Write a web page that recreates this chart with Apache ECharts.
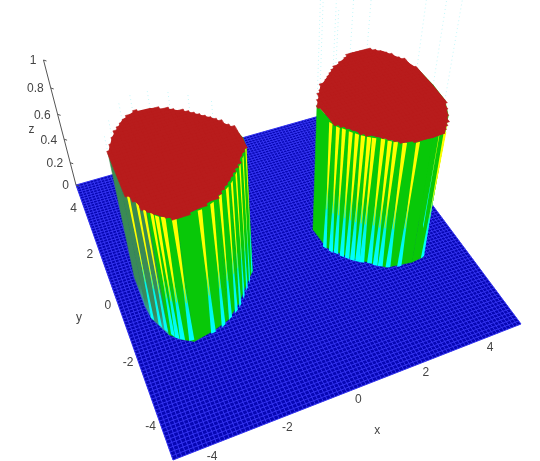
<!DOCTYPE html>
<html>
<head>
<meta charset="utf-8">
<title>surface</title>
<style>
html,body{margin:0;padding:0;background:#fff}
#main{width:540px;height:461px}
</style>
<script src="https://cdn.jsdelivr.net/npm/echarts@6/dist/echarts.min.js"></script>
</head>
<body>
<div id="main"></div>
<script>
// tick labels
var xTicks = [-4, -2, 0, 2, 4];
var yTicks = [4, 2, 0, -2, -4];
var zTicks = [0, 0.2, 0.4, 0.6, 0.8, 1];

// rim of the two plateaus in data units (x, y at z = 1)
var leftRim = [[-2.89,1.93],[-2.42,1.69],[-1.99,1.38],[-1.52,0.93],[-1.17,0.41],[-1.08,-0.07],[-1.13,-0.41],[-1.33,-0.63],[-1.90,-1.32],[-2.37,-1.72],[-2.85,-1.89],[-3.44,-2.01],[-3.71,-1.83],[-4.00,-1.54],[-4.28,-0.84],[-4.32,-0.40],[-4.32,0.71],[-4.08,1.23],[-3.68,1.75],[-3.34,1.95]];
var rightRim = [[3.45,2.00],[3.82,1.74],[4.16,1.20],[4.32,0.70],[4.36,-0.11],[4.33,-0.77],[4.10,-1.32],[3.67,-1.88],[3.30,-1.92],[2.88,-1.86],[2.52,-1.79],[2.14,-1.44],[1.70,-1.05],[1.23,-0.44],[1.15,0.36],[1.53,0.99],[2.20,1.59],[2.93,2.02]];

// where the yellow/cyan stripes sit on the rim
var leftStripes = [[-4.26,-0.88],[-4.13,-1.18],[-4.03,-1.39],[-3.91,-1.61],[-3.83,-1.74],[-3.71,-1.83],[-3.49,-1.95],[-2.87,-1.95],[-2.54,-1.85],[-2.28,-1.69],[-2.05,-1.54],[-1.88,-1.40],[-1.68,-1.16],[-1.50,-0.94],[-1.33,-0.71],[-1.15,-0.44]];
var rightStripes = [[1.18,-0.42],[1.28,-0.63],[1.39,-0.75],[1.50,-0.92],[1.61,-1.05],[1.72,-1.17],[1.84,-1.27],[1.94,-1.35],[2.13,-1.47],[2.25,-1.60],[2.37,-1.69],[2.56,-1.81],[2.88,-1.91],[3.67,-1.88],[3.92,-1.57],[4.29,-0.84]];

// rim segments of the left plateau that are in the dark shade
var leftShade = [13, 14, 15, 16];

// faint wire ends above the plateaus
var leftRays = [[-4.32,0.71],[-4.08,1.23],[-3.68,1.75],[-3.34,1.95],[-2.89,1.93],[-2.42,1.69],[-1.99,1.38],[-1.52,0.93]];
var rightRays = [[1.15,0.36],[1.23,-0.44],[1.53,0.99],[2.20,1.59],[2.93,2.02],[3.45,2.00],[4.36,-0.11],[4.32,0.70],[4.33,-0.77]];

var RED = '#b81c1c';

// camera: corners of the floor on the page and the point vertical lines run to
var cA = [76,185], cB = [173,460], cC = [521,324], cD = [358,105], nadir = [288,1000];
var zTopY = 60;
var dx1 = cC[0]-cD[0], dx2 = cA[0]-cD[0], sx = cB[0]-cC[0]+cD[0]-cA[0];
var dy1 = cC[1]-cD[1], dy2 = cA[1]-cD[1], sy = cB[1]-cC[1]+cD[1]-cA[1];
var det = dx1*dy2-dx2*dy1;
var mg = (sx*dy2-dx2*sy)/det, mh = (dx1*sy-sx*dy1)/det;
var ma = cC[0]-cB[0]+mg*cC[0], mb = cA[0]-cB[0]+mh*cA[0], mc = cB[0];
var md = cC[1]-cB[1]+mg*cC[1], me = cA[1]-cB[1]+mh*cA[1], mf = cB[1];
var mk = (mh+1)*(zTopY-cA[1])/(nadir[1]-zTopY);

function project(x, y, z){
  var u = (x+5)/10, v = (y+5)/10;
  var w = mg*u + mh*v + 1 + mk*z;
  return [(ma*u + mb*v + mc + mk*z*nadir[0])/w, (md*u + me*v + mf + mk*z*nadir[1])/w];
}

function poly(api, pts, style){
  return {
    type: 'polygon',
    shape: {points: pts.map(function(p){ return api.coord(project(p[0],p[1],p[2])); })},
    style: style
  };
}

function inside(rim, x, y){
  var c = false;
  for (var i = 0, j = rim.length-1; i < rim.length; j = i++){
    if ((rim[i][1] > y) != (rim[j][1] > y) &&
        x < (rim[j][0]-rim[i][0])*(y-rim[i][1])/(rim[j][1]-rim[i][1])+rim[i][0]) c = !c;
  }
  return c;
}

// mesh of the surface
var cellsPerSide = 90, cellSize = 10/cellsPerSide;
var meshLines = [];
for (var i = 0; i <= cellsPerSide; i++){
  meshLines.push([i*cellSize-5, 0]);
  meshLines.push([i*cellSize-5, 1]);
}

function topCells(rim){
  var cells = [];
  for (var i = 0; i < cellsPerSide; i++){
    for (var j = 0; j < cellsPerSide; j++){
      var x = i*cellSize-5, y = j*cellSize-5;
      if (inside(rim, x+cellSize/2, y+cellSize/2)) cells.push([x, y]);
    }
  }
  return cells;
}

// wall pieces on the near side only, the far ones would poke out past the jagged top
function wallSegs(rim, shade){
  var segs = [];
  for (var i = 0; i < rim.length; i++){
    var p = rim[i], q = rim[(i+1)%rim.length];
    if ((p[1]+q[1])/2 > 0.4) continue;
    segs.push([p[0], p[1], q[0], q[1], shade.indexOf(i) >= 0 ? 1 : 0]);
  }
  segs.sort(function(a, b){ return (b[1]+b[3]) - (a[1]+a[3]); });
  return segs;
}

function stripeData(list){
  return list.map(function(p, i){
    var a = list[Math.max(i-1,0)], b = list[Math.min(i+1,list.length-1)];
    var tx = b[0]-a[0], ty = b[1]-a[1], len = Math.sqrt(tx*tx+ty*ty);
    return [p[0], p[1], tx/len, ty/len];
  });
}

function renderFloor(params, api){
  return poly(api, [[-5,-5,0],[5,-5,0],[5,5,0],[-5,5,0]], {fill: '#0606b4'});
}
function renderMesh(params, api){
  var t = api.value(0), dir = api.value(1);
  var a = dir ? project(t,-5,0) : project(-5,t,0);
  var b = dir ? project(t,5,0) : project(5,t,0);
  a = api.coord(a); b = api.coord(b);
  return {type:'line', shape:{x1:a[0],y1:a[1],x2:b[0],y2:b[1]}, style:{stroke:'#3434f0', lineWidth:1}};
}
function renderWall(params, api){
  var x0 = api.value(0), y0 = api.value(1), x1 = api.value(2), y1 = api.value(3);
  var shaded = api.value(4);
  var fill = shaded ?
    new echarts.graphic.LinearGradient(0,0,0,1,[{offset:0,color:'#3a8a4e'},{offset:0.85,color:'#3a8a5c'},{offset:1,color:'#30b8b8'}]) :
    '#08c808';
  return poly(api, [[x0,y0,1],[x1,y1,1],[x1,y1,0],[x0,y0,0]], {fill: fill, stroke: fill, lineWidth: 0.5});
}
function renderStripe(params, api){
  var x = api.value(0), y = api.value(1), tx = api.value(2), ty = api.value(3);
  var w = 0.055, wb = 0.07, tip = 0.012;
  return {
    type: 'group',
    children: [
      poly(api, [[x-tx*wb,y-ty*wb,0],[x+tx*wb,y+ty*wb,0],[x+tx*tip,y+ty*tip,0.6],[x-tx*tip,y-ty*tip,0.6]], {
        fill: new echarts.graphic.LinearGradient(0,0,0,1,[{offset:0,color:'#00d8a0'},{offset:0.3,color:'#00f0e0'},{offset:1,color:'#00ffff'}])
      }),
      poly(api, [[x-tx*w,y-ty*w,1],[x+tx*w,y+ty*w,1],[x+tx*tip,y+ty*tip,0.34],[x-tx*tip,y-ty*tip,0.34]], {
        fill: new echarts.graphic.LinearGradient(0,0,0,1,[{offset:0,color:'#ffff00'},{offset:0.7,color:'#ffff00'},{offset:1,color:'#a0f000'}])
      })
    ]
  };
}
function renderCell(params, api){
  var x = api.value(0), y = api.value(1), s = cellSize;
  return poly(api, [[x,y,1],[x+s,y,1],[x+s,y+s,1],[x,y+s,1]], {fill: RED, stroke: RED, lineWidth: 0.6});
}
// solid red under the cells so their seams do not show
function rimRender(rim){
  return function(params, api){
    return poly(api, rim.map(function(p){ return [p[0], p[1], 1]; }), {fill: RED});
  };
}
function rayRender(top){
  return function(params, api){
    var a = api.coord(project(api.value(0), api.value(1), 1));
    var b = api.coord(project(api.value(0), api.value(1), top));
    return {type:'line', shape:{x1:a[0],y1:a[1],x2:b[0],y2:b[1]},
      style:{stroke:'rgba(110,235,240,0.4)', lineWidth:1, lineDash:[1,3]}};
  };
}

var FONT = '12px Arial, "Liberation Sans", sans-serif';
function label(api, pos, str, align){
  var c = api.coord(pos);
  return {type:'text', style:{x:c[0], y:c[1], text:str, fill:'#444', font:FONT, align:align, verticalAlign:'middle'}};
}
function renderXTick(params, api){
  var t = api.value(0), p = project(t,-5,0);
  return label(api, [p[0], p[1]+12], String(t), 'center');
}
function renderYTick(params, api){
  var t = api.value(0), p = project(-5,t,0);
  return label(api, [p[0]-10, p[1]+2], String(t), 'center');
}
function renderZTick(params, api){
  var t = api.value(0), p = api.coord(project(-5,5,t));
  return {
    type:'group',
    children:[
      {type:'line', shape:{x1:p[0],y1:p[1],x2:p[0]+3,y2:p[1]+1}, style:{stroke:'#555', lineWidth:1}},
      {type:'text', style:{x:p[0]-7, y:p[1]+1, text:String(t), fill:'#444', font:FONT, align:'right', verticalAlign:'middle'}}
    ]
  };
}
function renderZAxis(params, api){
  var a = api.coord(project(-5,5,0)), b = api.coord(project(-5,5,1));
  return {type:'line', shape:{x1:a[0],y1:a[1],x2:b[0],y2:b[1]}, style:{stroke:'#555', lineWidth:1}};
}
function renderAxisName(params, api){
  var names = ['x','y','z'];
  var n = api.value(0);
  var at = [project(0.55,-5,0), project(-5,0,0), project(-5,5,0.42)];
  var off = [[0,51],[-39,14],[-32,-7]];
  return label(api, [at[n][0]+off[n][0], at[n][1]+off[n][1]], names[n], 'center');
}

function custom(name, data, fn){
  return {name:name, type:'custom', coordinateSystem:'cartesian2d', data:data, renderItem:fn,
    silent:true, clip:false, animation:false, progressive:0};
}

var myChart = echarts.init(document.getElementById('main'), null, {renderer:'canvas'});
var option = {
  animation: false,
  grid: {left:0, right:0, top:0, bottom:0},
  xAxis: {type:'value', min:0, max:540, show:false},
  yAxis: {type:'value', min:0, max:461, inverse:true, show:false},
  series: [
    custom('floor', [[0,0]], renderFloor),
    custom('mesh', meshLines, renderMesh),
    custom('raysL', leftRays, rayRender(1.12)),
    custom('raysR', rightRays, rayRender(1.7)),
    custom('wallL', wallSegs(leftRim, leftShade), renderWall),
    custom('stripesL', stripeData(leftStripes), renderStripe),
    custom('rimL', [[0,0]], rimRender(leftRim)),
    custom('topL', topCells(leftRim), renderCell),
    custom('wallR', wallSegs(rightRim, []), renderWall),
    custom('stripesR', stripeData(rightStripes), renderStripe),
    custom('rimR', [[0,0]], rimRender(rightRim)),
    custom('topR', topCells(rightRim), renderCell),
    custom('zAxis', [[0,0]], renderZAxis),
    custom('xTicks', xTicks.map(function(t){ return [t,0]; }), renderXTick),
    custom('yTicks', yTicks.map(function(t){ return [t,0]; }), renderYTick),
    custom('zTicks', zTicks.map(function(t){ return [t,0]; }), renderZTick),
    custom('names', [[0,0],[1,0],[2,0]], renderAxisName)
  ]
};
myChart.setOption(option);
</script>
</body>
</html>
